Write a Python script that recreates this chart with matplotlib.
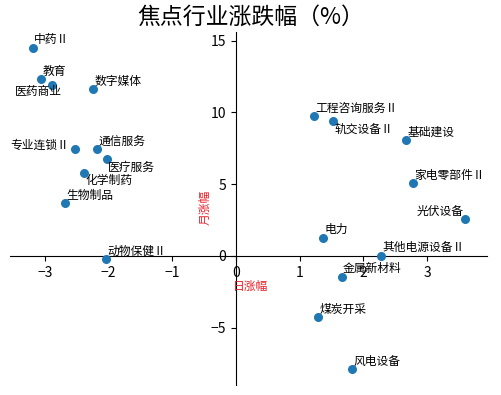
import matplotlib
matplotlib.use('Agg')
import matplotlib.pyplot as plt

plt.rcParams['font.family'] = ['Noto Sans CJK SC', 'DejaVu Sans']
plt.rcParams['axes.unicode_minus'] = True

# 行业名称, 日涨幅, 月涨幅
names = ['中药Ⅱ', '教育', '医药商业', '数字媒体', '专业连锁Ⅱ', '通信服务', '医疗服务',
         '化学制药', '生物制品', '动物保健Ⅱ', '工程咨询服务Ⅱ', '轨交设备Ⅱ', '基础建设',
         '家电零部件Ⅱ', '光伏设备', '电力', '其他电源设备Ⅱ', '金属新材料', '煤炭开采', '风电设备']
day_chg = [-3.19, -3.06, -2.89, -2.24, -2.53, -2.18, -2.03, -2.39, -2.68, -2.04,
           1.22, 1.53, 2.67, 2.78, 3.60, 1.36, 2.28, 1.66, 1.29, 1.82]
month_chg = [14.5, 12.3, 11.9, 11.6, 7.45, 7.45, 6.75, 5.78, 3.69, -0.2,
             9.75, 9.4, 8.08, 5.08, 2.58, 1.27, 0.03, -1.45, -4.25, -7.9]

# label placement (offset in points, ha, va)
place = {
    '医药商业': ((7, 0), 'right', 'top'),
    '专业连锁Ⅱ': ((-4, -2), 'right', 'bottom'),
    '医疗服务': ((1, -1), 'left', 'top'),
    '化学制药': ((1, -1), 'left', 'top'),
    '轨交设备Ⅱ': ((1, -1), 'left', 'top'),
    '光伏设备': ((-1, 1), 'right', 'bottom'),
}

fig = plt.figure(figsize=(5.02, 3.95), dpi=100)
ax = fig.add_axes([0.02, 0.025, 0.95, 0.894])

ax.scatter(day_chg, month_chg, s=30, color='#1f77b4', zorder=3)

for n, x, y in zip(names, day_chg, month_chg):
    off, ha, va = place.get(n, ((1, 1), 'left', 'bottom'))
    ax.annotate(n, (x, y), xytext=off, textcoords='offset points',
                ha=ha, va=va, fontsize=8.5, color='black')

ax.set_xlim(-3.55, 3.94)
ax.set_ylim(-9.0, 15.6)
ax.spines['left'].set_position(('data', 0))
ax.spines['bottom'].set_position(('data', 0))
ax.spines['right'].set_visible(False)
ax.spines['top'].set_visible(False)
ax.set_xticks([-3, -2, -1, 0, 1, 2, 3])
ax.set_yticks([-5, 0, 5, 10, 15])
ax.tick_params(labelsize=10)

ax.text(0.22, -2.15, '日涨幅', color='#e8202a', fontsize=8.5, ha='center', va='center')
ax.text(-0.49, 3.35, '月涨幅', color='#e8202a', fontsize=8.5, ha='center', va='center',
        rotation=90)

fig.suptitle('焦点行业涨跌幅（%）', fontsize=16.5, x=0.5, y=0.985)

fig.savefig('out.png', dpi=100)
